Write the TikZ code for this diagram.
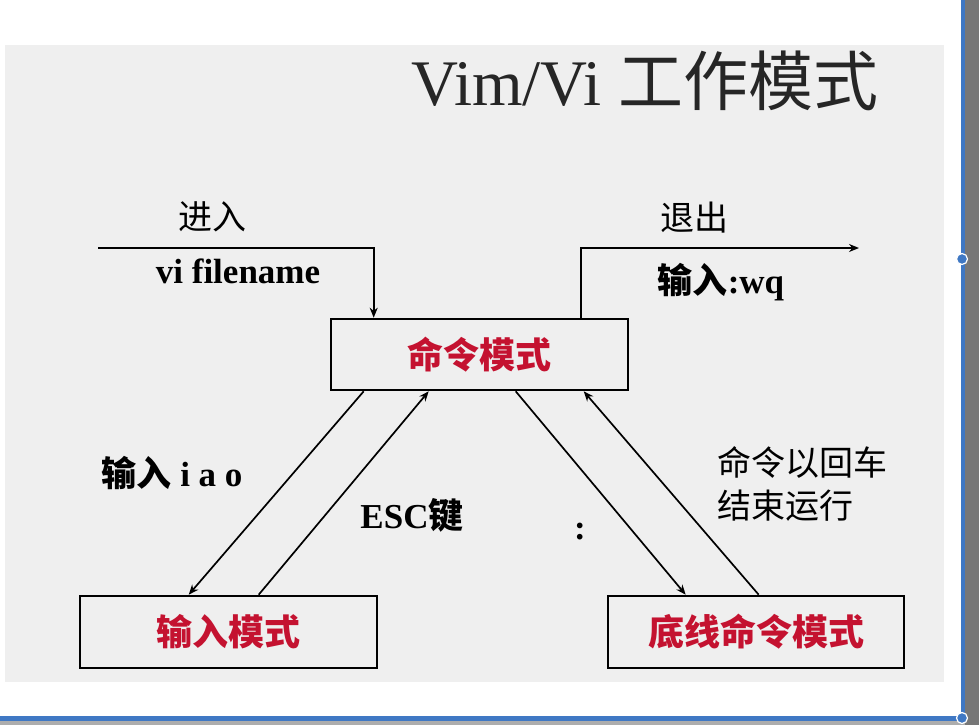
\documentclass[tikz,border=0pt]{standalone}
\usepackage{fontspec}
\setmainfont{Liberation Serif}
\newfontfamily\cjk{Noto Sans CJK SC}
\usetikzlibrary{arrows.meta,calc}

\definecolor{panel}{HTML}{EFEFEF}
\definecolor{modered}{RGB}{196,18,48}
\definecolor{frameblue}{HTML}{3F78C4}
\definecolor{framegray}{HTML}{777777}

\tikzset{
  modebox/.style={draw=black, line width=2.6pt, fill=panel, inner sep=0pt,
    font=\cjk\bfseries\fontsize{36}{36}\selectfont, text=modered},
  label/.style={inner sep=0pt, text=black},
  arr/.style={line width=1.7pt, -{Stealth[length=10pt,width=8pt]}},
  link/.style={line width=1.7pt}
}

\begin{document}
\begin{tikzpicture}[x=1pt,y=-1pt]
  \useasboundingbox (0,0) rectangle (979,725);
  % page background and slide panel
  \fill[white] (0,0) rectangle (979,725);
  \fill[panel] (5,45) rectangle (944,682);
  % window frame on the right and bottom
  \fill[framegray] (965,0) rectangle (979,725);
  \fill[frameblue] (960.5,0) rectangle (965,720);
  \fill[frameblue] (0,716) rectangle (965,721);
  \fill[framegray!60] (0,721) rectangle (965,725);
  \filldraw[fill=frameblue, draw=white, line width=1.2pt] (962,259) circle (5.5);
  \filldraw[fill=frameblue, draw=white, line width=1.2pt] (962,718) circle (5.5);

  % title
  \node[label, anchor=base west, text=black!85] (title) at (411,105)
    {\fontsize{65}{65}\selectfont Vim/Vi \cjk 工作模式};

  % the three modes
  \node[modebox, minimum width=297pt, minimum height=71pt] (cmd) at (479.5,354.5) {命令模式};
  \node[modebox, minimum width=297pt, minimum height=72pt] (ins) at (228.5,632) {输入模式};
  \node[modebox, minimum width=296pt, minimum height=72pt] (last) at (756,632) {底线命令模式};

  % entering and leaving
  \coordinate (enter) at (98,248);
  \coordinate (quit) at (859,248);
  \draw[arr] (enter) -| ($(cmd.north west)+(44,0)$);
  \draw[arr] ($(cmd.north west)+(251,0)$) |- (quit);

  \node[label] (enterlbl) at (212,217) {\cjk\fontsize{34}{34}\selectfont 进入};
  \node[label] (vilbl) at (238,271) {\fontsize{35}{35}\selectfont\bfseries vi filename};
  \node[label] (quitlbl) at (694,218) {\cjk\fontsize{34}{34}\selectfont 退出};
  \node[label] (wqlbl) at (721,282) {\fontsize{35}{35}\selectfont{\cjk\bfseries 输入}\bfseries:wq};

  % command <-> insert
  \draw[arr] ($(cmd.south west)+(34,0)$) -- ($(ins.north west)+(110,0)$);
  \draw[arr] ($(ins.north west)+(180,0)$) -- ($(cmd.south west)+(99,0)$);
  \node[label] (iaolbl) at (172,473) {\fontsize{35}{35}\selectfont{\cjk\bfseries 输入} \bfseries i a o};
  \node[label] (esclbl) at (412,515) {\fontsize{35}{35}\selectfont\bfseries ESC{\cjk 键}};

  % command <-> last line
  \draw[arr] ($(cmd.south west)+(186,0)$) -- ($(last.north west)+(79,0)$);
  \draw[arr] ($(last.north west)+(152,0)$) -- ($(cmd.south west)+(254,0)$);
  \node[label] (colonlbl) at (580,532) {\fontsize{35}{35}\selectfont\bfseries :};
  \node[label, anchor=north west, align=left, font=\cjk\fontsize{34}{43}\selectfont]
    (runlbl) at (717,446) {命令以回车\\结束运行};
\end{tikzpicture}
\end{document}
